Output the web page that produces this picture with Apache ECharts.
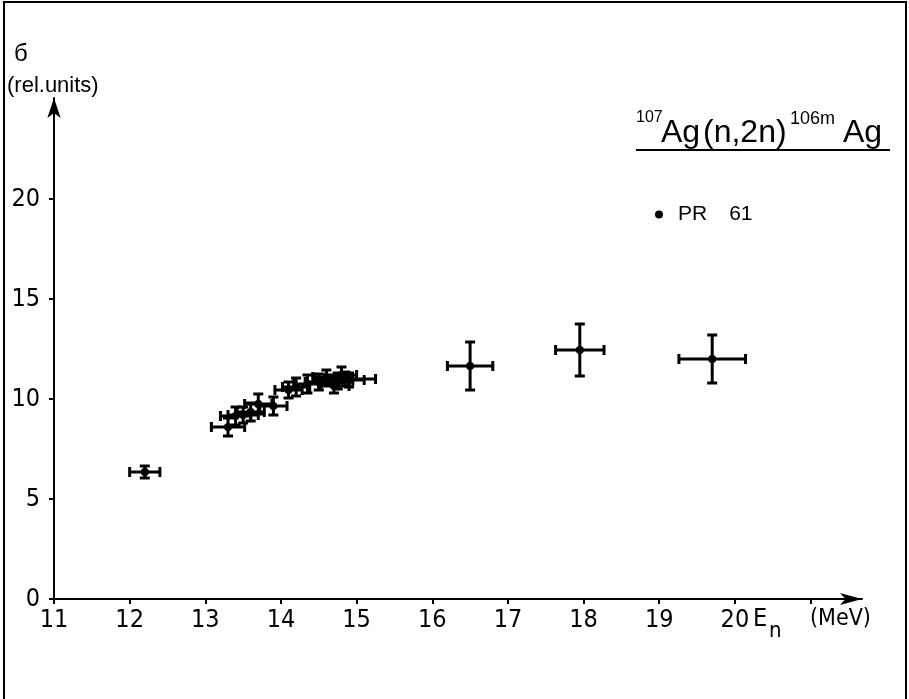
<!DOCTYPE html>
<html>
<head>
<meta charset="utf-8">
<script src="https://cdn.jsdelivr.net/npm/echarts@6/dist/echarts.min.js"></script>
<style>html,body{margin:0;padding:0;background:#fff}#c{width:909px;height:699px}</style>
</head>
<body>
<div id="c"></div>
<script>
// Data: 107Ag(n,2n)106mAg, PR 61
var energy    = [12.2, 13.3, 13.4, 13.5, 13.6, 13.7, 13.9, 14.1, 14.2, 14.35, 14.5, 14.6, 14.7, 14.75, 14.8, 14.85, 14.9, 16.5, 17.95, 19.7];
var sigma     = [6.35, 8.6, 9.15, 9.2, 9.35, 9.75, 9.65, 10.45, 10.6, 10.75, 10.85, 11.1, 10.65, 10.9, 11.2, 11.0, 10.95, 11.65, 12.45, 12.0];
var energyErr = [0.2, 0.22, 0.2, 0.2, 0.18, 0.18, 0.18, 0.18, 0.18, 0.18, 0.18, 0.18, 0.2, 0.2, 0.2, 0.4, 0.2, 0.3, 0.32, 0.44];
var sigmaErr  = [0.3, 0.45, 0.45, 0.4, 0.45, 0.5, 0.45, 0.4, 0.45, 0.45, 0.4, 0.35, 0.35, 0.4, 0.4, 0.35, 0.35, 1.2, 1.3, 1.2];
var xTickLabels = [11, 12, 13, 14, 15, 16, 17, 18, 19, 20];
var xTicks = [11, 12, 13, 14, 15, 16, 17, 18, 19, 20, 21];
var yTickLabels = [0, 5, 10, 15, 20];
var seriesName = 'PR 61';

var data = energy.map(function (e, i) { return [e, sigma[i], energyErr[i], sigmaErr[i]]; });

var FONT = "'Liberation Sans Narrow','DejaVu Sans Condensed','Liberation Sans',sans-serif";
var FONT2 = "'Liberation Sans','Arial',sans-serif";

var chart = echarts.init(document.getElementById('c'), null, {renderer: 'canvas'});

function renderItem(params, api) {
  var x = api.value(0), y = api.value(1), dx = api.value(2), dy = api.value(3);
  var c = api.coord([x, y]);
  var l = api.coord([x - dx, y]);
  var r = api.coord([x + dx, y]);
  var t = api.coord([x, y + dy]);
  var b = api.coord([x, y - dy]);
  var cap = 5;
  var st = {stroke: '#000', lineWidth: 3};
  return {
    type: 'group',
    children: [
      {type: 'line', shape: {x1: l[0], y1: l[1], x2: r[0], y2: r[1]}, style: st},
      {type: 'line', shape: {x1: t[0], y1: t[1], x2: b[0], y2: b[1]}, style: st},
      {type: 'line', shape: {x1: l[0], y1: l[1] - cap, x2: l[0], y2: l[1] + cap}, style: st},
      {type: 'line', shape: {x1: r[0], y1: r[1] - cap, x2: r[0], y2: r[1] + cap}, style: st},
      {type: 'line', shape: {x1: t[0] - cap, y1: t[1], x2: t[0] + cap, y2: t[1]}, style: st},
      {type: 'line', shape: {x1: b[0] - cap, y1: b[1], x2: b[0] + cap, y2: b[1]}, style: st},
      {type: 'circle', shape: {cx: c[0], cy: c[1], r: 4}, style: {fill: '#000'}}
    ]
  };
}

var option = {
  backgroundColor: '#fff',
  animation: false,
  grid: {left: 54, right: 47, top: 98, bottom: 100},
  legend: {
    left: 655, top: 204, padding: 0,
    itemWidth: 8, itemHeight: 8,
    selectedMode: false,
    data: [{name: seriesName, icon: 'circle', itemStyle: {color: '#000'}}],
    formatter: function () { return '{p|PR}{q|61}'; },
    textStyle: {
      color: '#000', fontFamily: FONT2, fontSize: 21, padding: [0, 0, 0, 10],
      rich: {
        p: {fontFamily: FONT2, fontSize: 21, color: '#000'},
        q: {fontFamily: FONT2, fontSize: 21, color: '#000', padding: [0, 0, 0, 22]}
      }
    }
  },
  xAxis: {
    type: 'value', min: 11, max: 21.68,
    axisLine: {show: true, onZero: false, lineStyle: {color: '#000', width: 2}, symbol: ['none', 'arrow'], symbolSize: [9, 22]},
    axisTick: {show: true, length: 5, lineStyle: {color: '#000', width: 2}, customValues: xTicks},
    axisLabel: {show: true, margin: 9, color: '#000', fontFamily: FONT, fontSize: 25, customValues: xTickLabels},
    splitLine: {show: false}
  },
  yAxis: {
    type: 'value', min: 0, max: 25.05,
    axisLine: {show: true, onZero: false, lineStyle: {color: '#000', width: 2}, symbol: ['none', 'arrow'], symbolSize: [10, 20]},
    axisTick: {show: true, length: 5, lineStyle: {color: '#000', width: 2}, customValues: yTickLabels},
    axisLabel: {show: true, margin: 14, color: '#000', fontFamily: FONT, fontSize: 25, customValues: yTickLabels},
    splitLine: {show: false}
  },
  series: [{
    name: seriesName,
    type: 'custom',
    renderItem: renderItem,
    itemStyle: {color: '#000'},
    encode: {x: 0, y: 1},
    data: data,
    z: 10
  }],
  graphic: [
    {type: 'polyline', shape: {points: [[4, 699], [4, 2], [906, 2], [906, 699]]}, style: {stroke: '#000', lineWidth: 2, fill: null}},
    {type: 'text', left: 14, top: 42, style: {text: 'б', font: "24px " + FONT2, fill: '#000'}},
    {type: 'text', left: 7, top: 75, style: {text: '(rel.units)', font: "22px " + FONT2, fill: '#000'}},
    {type: 'text', x: 753, y: 619, style: {text: 'E', font: "25px " + FONT, fill: '#000', verticalAlign: 'middle', align: 'left'}},
    {type: 'text', x: 769, y: 631, style: {text: 'n', font: "22px " + FONT, fill: '#000', verticalAlign: 'middle', align: 'left'}},
    {type: 'text', x: 810, y: 619, style: {text: '(MeV)', font: "23px " + FONT, fill: '#000', verticalAlign: 'middle', align: 'left'}},
    {type: 'text', x: 636, y: 118, style: {text: '107', font: "16px " + FONT2, fill: '#000', verticalAlign: 'middle', align: 'left'}},
    {type: 'text', x: 661, y: 133, style: {text: 'Ag', font: "32px " + FONT2, fill: '#000', verticalAlign: 'middle', align: 'left'}},
    {type: 'text', x: 703, y: 133, style: {text: '(n,2n)', font: "32px " + FONT2, fill: '#000', verticalAlign: 'middle', align: 'left'}},
    {type: 'text', x: 790, y: 119, style: {text: '106m', font: "18px " + FONT2, fill: '#000', verticalAlign: 'middle', align: 'left'}},
    {type: 'text', x: 843, y: 133, style: {text: 'Ag', font: "32px " + FONT2, fill: '#000', verticalAlign: 'middle', align: 'left'}},
    {type: 'line', shape: {x1: 636, y1: 150, x2: 890, y2: 150}, style: {stroke: '#000', lineWidth: 2}}
  ]
};
chart.setOption(option);
</script>
</body>
</html>
